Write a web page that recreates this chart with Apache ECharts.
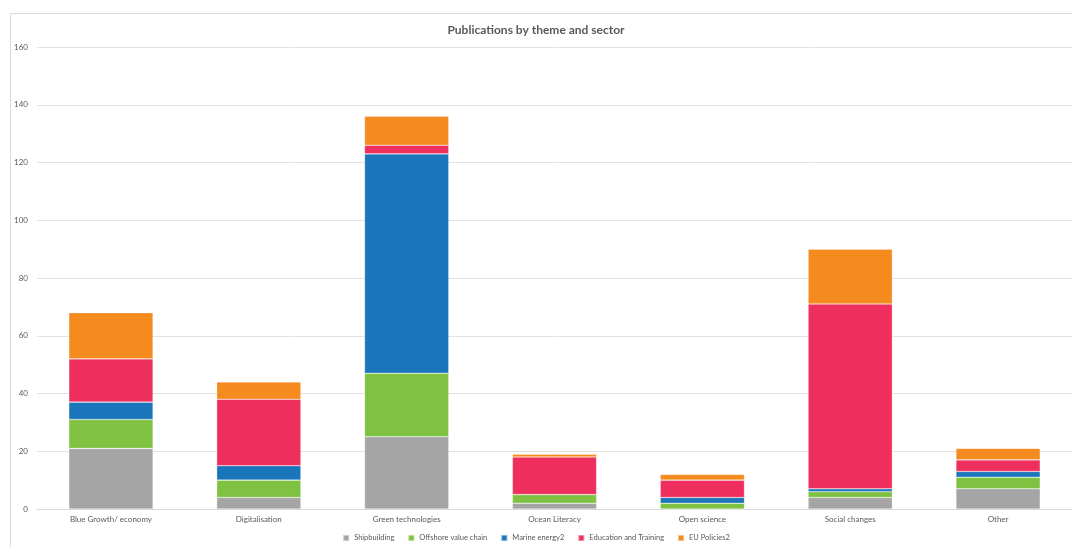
<!DOCTYPE html>
<html>
<head>
<meta charset="utf-8">
<script src="https://cdn.jsdelivr.net/npm/echarts@6/dist/echarts.min.js"></script>
<style>
html,body{margin:0;padding:0;background:#fff;}
#chart{width:1072px;height:547px;}
</style>
</head>
<body>
<div id="chart"></div>
<script>
const categories = ['Blue Growth/ economy','Digitalisation','Green technologies','Ocean Literacy','Open science','Social changes','Other'];
const shipbuilding = [21, 4, 25, 2, 0, 4, 7];
const offshore = [10, 6, 22, 3, 2, 2, 4];
const marineEnergy = [6, 5, 76, 0, 2, 1, 2];
const education = [15, 23, 3, 13, 6, 64, 4];
const euPolicies = [16, 6, 10, 1, 2, 19, 4];
const yTicks = [0, 20, 40, 60, 80, 100, 120, 140, 160];

const seriesDefs = [
  {name:'Shipbuilding', data: shipbuilding, color:'#a5a5a5'},
  {name:'Offshore value chain', data: offshore, color:'#7fc241'},
  {name:'Marine energy2', data: marineEnergy, color:'#1b75bb'},
  {name:'Education and Training', data: education, color:'#ee2e5d'},
  {name:'EU Policies2', data: euPolicies, color:'#f58a1f'}
];

const font = 'Lato, "Open Sans", sans-serif';
const chart = echarts.init(document.getElementById('chart'), null, {renderer:'canvas'});
chart.setOption({
  animation:false,
  backgroundColor:'#fff',
  graphic:[{type:'rect', shape:{x:10.5,y:13.5,width:1080,height:560}, style:{fill:'none', stroke:'#d9d9d9', lineWidth:1}, silent:true, z:-1}],
  title:{text:'Publications by theme and sector', left:'center', top:19,
    textStyle:{fontFamily:font, fontSize:12, fontWeight:'bold', color:'#595959'}},
  legend:{bottom:0, left:'center', itemWidth:6, itemHeight:6, itemGap:13, icon:'rect',
    textStyle:{fontFamily:font, fontSize:7.5, color:'#595959'},
    data: seriesDefs.map(s=>s.name)},
  grid:{left:37, right:0, top:47, bottom:38, containLabel:false},
  xAxis:{type:'category', data:categories,
    axisLine:{lineStyle:{color:'#d9d9d9'}}, axisTick:{show:false},
    axisLabel:{fontFamily:font, fontSize:8, color:'#595959', margin:6, interval:0}},
  yAxis:{type:'value', min:yTicks[0], max:yTicks[yTicks.length-1], interval:20,
    axisLine:{show:false}, axisTick:{show:false},
    splitLine:{lineStyle:{color:'#e3e3e3'}},
    axisLabel:{fontFamily:font, fontSize:8, color:'#595959', margin:9}},
  series: seriesDefs.map(s=>({
    name:s.name, type:'bar', stack:'total', data:s.data, barCategoryGap:'43%',
    itemStyle:{color:s.color, borderColor:'rgba(255,255,255,0.45)', borderWidth:0.6}
  }))
});
</script>
</body>
</html>
